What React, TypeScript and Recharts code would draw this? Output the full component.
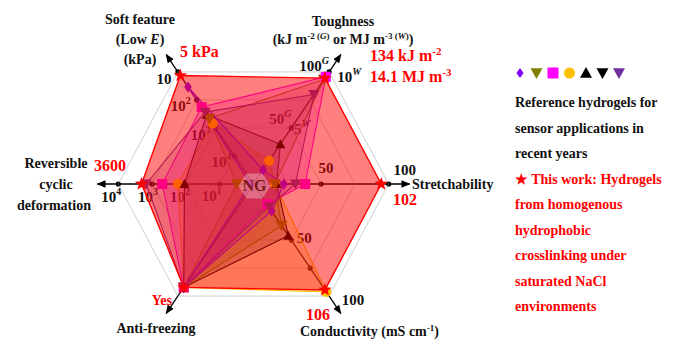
import React from "react";
import { PolarAngleAxis, PolarGrid, PolarRadiusAxis, Radar, RadarChart } from "recharts";

// axis order: clockwise from the right
const axisNames = [
  "Stretchability",
  "Conductivity",
  "Anti-freezing",
  "Reversible cyclic deformation",
  "Soft feature",
  "Toughness",
];
// the published hexagon is a little flattened: diagonal axes sit at 56 deg
const axisAngles = [0, 56, 124, 180, 236, 304];

// positions on a 0-4 ring scale (ring 4 = 100 / 10 kPa / 10^4 cycles / Yes)
const thisWork = [4.2, 4.2, 4.1, 3.68, 4.3, 4.2];
const refSquare = [1.7, 0.8, 4.1, 3.0, 3.05, 4.25];
const refCircle = [0.7, 4.28, 4.1, 2.49, 2.4, 0.92];
const refUp = [0.76, 2.05, 4.1, 2.27, 2.75, 1.58];
const refOlive = [0.7, 1.65, 4.1, 0.55, 2.6, 4.15];
const refDiamond = [1.0, 1.07, 4.1, 0.1, 3.85, 0.56];
const refPurpleDown = [1.38, 0.9, 4.1, 3.53, 2.85, 3.55];

const legendLines = [
  "Reference hydrogels for",
  "sensor applications in",
  "recent years",
];
const workLines = [
  "from homogenous",
  "hydrophobic",
  "crosslinking under",
  "saturated NaCl",
  "environments",
];

const CX = 253.5;
const CY = 184;
const UNIT = 33.8;
const MAXV = 4.5;
const FONT = "'Liberation Serif', 'Times New Roman', serif";
const WORK_OP = 0.5;

const data = axisNames.map((axis, i) => ({
  axis,
  angle: axisAngles[i],
  work: thisWork[i],
  square: refSquare[i],
  circle: refCircle[i],
  up: refUp[i],
  olive: refOlive[i],
  diamond: refDiamond[i],
  pdown: refPurpleDown[i],
}));

// references first, "this work" last so its translucent red sits over them
const series = [
  { key: "circle", color: "#ffc000", op: 0.3, shape: "circle", ms: 5 },
  { key: "up", color: "#000000", op: 0.22, shape: "up", ms: 5 },
  { key: "olive", color: "#808000", op: 0.2, shape: "down", ms: 6 },
  { key: "square", color: "#ff00ff", op: 0.25, shape: "square", ms: 5 },
  { key: "diamond", color: "#8000ff", op: 0.2, shape: "diamond", ms: 5.5 },
  { key: "pdown", color: "#7030a0", op: 0.2, shape: "down", ms: 5.5 },
  { key: "work", color: "#ff0000", op: WORK_OP, shape: "star", ms: 7 },
];

// marker colour as seen through the red "this work" layer
function underRed(hex: string) {
  const c = [1, 3, 5].map((k) => parseInt(hex.slice(k, k + 2), 16));
  const r = [255, 0, 0];
  const m = c.map((v, k) => Math.round(v * (1 - WORK_OP) + r[k] * WORK_OP));
  return `rgb(${m[0]},${m[1]},${m[2]})`;
}

function pt(i: number, v: number, ox = 0, oy = 0) {
  const a = (axisAngles[i] * Math.PI) / 180;
  return [CX + Math.cos(a) * v * UNIT + ox, CY + Math.sin(a) * v * UNIT + oy];
}

function Marker({ shape, x, y, s, color }: { shape: string; x: number; y: number; s: number; color: string }) {
  if (shape === "circle") return <circle cx={x} cy={y} r={s} fill={color} />;
  if (shape === "square") return <rect x={x - s} y={y - s} width={2 * s} height={2 * s} fill={color} />;
  if (shape === "up")
    return <path d={`M${x},${y - s} L${x + s},${y + s * 0.8} L${x - s},${y + s * 0.8} Z`} fill={color} />;
  if (shape === "down")
    return <path d={`M${x - s},${y - s * 0.8} L${x + s},${y - s * 0.8} L${x},${y + s} Z`} fill={color} />;
  if (shape === "diamond")
    return <path d={`M${x},${y - s} L${x + s * 0.7},${y} L${x},${y + s} L${x - s * 0.7},${y} Z`} fill={color} />;
  const pts: string[] = [];
  for (let k = 0; k < 10; k++) {
    const r = k % 2 === 0 ? s : s * 0.42;
    const a = (-90 + k * 36) * (Math.PI / 180);
    pts.push(`${x + r * Math.cos(a)},${y + r * Math.sin(a)}`);
  }
  return <polygon points={pts.join(" ")} fill={color} />;
}

const tickDots: [number, number[]][] = [
  [0, [2, 4]],
  [1, [2, 3]],
  [2, []],
  [3, [1, 2, 3, 4]],
  [4, [1, 2, 3, 4]],
  [5, [2, 4]],
];

function Underlay() {
  const tick = { fontFamily: FONT, fontWeight: 700, fontSize: 15, fill: "#111" } as const;
  const T = ({ i, v, ox, oy, children }: any) => {
    const [x, y] = pt(i, v, ox, oy);
    return (
      <text x={x} y={y} textAnchor="middle" dominantBaseline="middle" {...tick}>
        {children}
      </text>
    );
  };
  const sup = (s: string, it = false) => (
    <tspan dy={-6} fontSize={10} fontStyle={it ? "italic" : "normal"}>
      {s}
    </tspan>
  );
  return (
    <svg width={680} height={352} style={{ position: "absolute", left: 0, top: 0 }}>
      <defs>
        <marker id="arr" viewBox="0 0 10 10" refX="9" refY="5" markerWidth="7" markerHeight="7" orient="auto">
          <path d="M0,1 L10,5 L0,9 Z" fill="#000" />
        </marker>
      </defs>
      {axisNames.map((_, i) => {
        const [x2, y2] = pt(i, 4.62);
        return <line key={i} x1={CX} y1={CY} x2={x2} y2={y2} stroke="#000" strokeWidth={1.3} markerEnd="url(#arr)" />;
      })}
      {tickDots.map(([i, vs]) =>
        vs.map((v) => {
          const [x, y] = pt(i, v);
          return <circle key={`${i}-${v}`} cx={x} cy={y} r={2.6} fill="#000" />;
        })
      )}
      {/* soft feature (inverted log scale) */}
      <T i={4} v={4} ox={-14} oy={9}>10</T>
      <T i={4} v={3} ox={-16} oy={8}>10{sup("2")}</T>
      <T i={4} v={2} ox={-15} oy={9}>10{sup("3")}</T>
      <T i={4} v={1} ox={-13} oy={8}>10{sup("4")}</T>
      {/* reversible cyclic deformation */}
      <T i={3} v={4} ox={-7} oy={15}>10{sup("4")}</T>
      <T i={3} v={3} ox={-4} oy={15}>10{sup("3")}</T>
      <T i={3} v={2} ox={-6} oy={15}>10{sup("2")}</T>
      <T i={3} v={1} ox={-8} oy={14}>10{sup("1")}</T>
      {/* stretchability */}
      <T i={0} v={2} ox={5} oy={-14}>50</T>
      <T i={0} v={4} ox={16} oy={-12}>100</T>
      {/* conductivity */}
      <T i={1} v={2} ox={13} oy={0}>50</T>
      <T i={1} v={4} ox={24} oy={5}>100</T>
      {/* toughness */}
      <T i={5} v={2} ox={-11} oy={-7}>50{sup("G", true)}</T>
      <T i={5} v={2} ox={11} oy={3}>5{sup("W", true)}</T>
      <T i={5} v={4} ox={-15} oy={-4}>100{sup("G", true)}</T>
      <T i={5} v={4} ox={20} oy={7}>10{sup("W", true)}</T>
    </svg>
  );
}

function Overlay() {
  const ax = { fontFamily: FONT, fontWeight: 700, fontSize: 14, fill: "#111" } as const;
  const red = { fontFamily: FONT, fontWeight: 700, fontSize: 16, fill: "#ff0000" } as const;
  const leg = { fontFamily: FONT, fontWeight: 700, fontSize: 14 } as const;
  const hex: string[] = [];
  for (let k = 0; k < 6; k++) {
    const a = (k * 60 * Math.PI) / 180;
    hex.push(`${CX + 1 + 16 * Math.cos(a)},${CY + 2 + 14.5 * Math.sin(a)}`);
  }
  const legendShapes = [
    { shape: "diamond", color: "#8000ff", s: 5 },
    { shape: "down", color: "#808000", s: 6 },
    { shape: "square", color: "#ff00ff", s: 5.5 },
    { shape: "circle", color: "#ffc000", s: 5.5 },
    { shape: "up", color: "#000", s: 6 },
    { shape: "down", color: "#000", s: 6 },
    { shape: "down", color: "#7030a0", s: 6 },
  ];
  return (
    <svg width={680} height={352} style={{ position: "absolute", left: 0, top: 0, pointerEvents: "none" }}>
      <polygon points={hex.join(" ")} fill="#ffffff" fillOpacity={0.3} />
      <text x={CX + 1} y={CY + 3} textAnchor="middle" dominantBaseline="middle" fontFamily={FONT} fontWeight={700} fontSize={16} fill="#7a1818">
        NG
      </text>

      <text x={140} y={24} textAnchor="middle" {...ax}>Soft feature</text>
      <text x={140} y={44} textAnchor="middle" {...ax}>
        (Low <tspan fontStyle="italic">E</tspan>)
      </text>
      <text x={140} y={64} textAnchor="middle" {...ax}>(kPa)</text>
      <text x={180} y={57} {...red}>5 kPa</text>

      <text x={343} y={26} textAnchor="middle" {...ax}>Toughness</text>
      <text x={343} y={44} textAnchor="middle" {...ax}>
        (kJ m
        <tspan dy={-5} fontSize={9}>-2 (</tspan>
        <tspan fontSize={9} fontStyle="italic">G</tspan>
        <tspan fontSize={9}>)</tspan>
        <tspan dy={5}> or MJ m</tspan>
        <tspan dy={-5} fontSize={9}>-3 (</tspan>
        <tspan fontSize={9} fontStyle="italic">W</tspan>
        <tspan fontSize={9}>)</tspan>
        <tspan dy={5}>)</tspan>
      </text>
      <text x={370} y={61} {...red}>
        134 kJ m<tspan dy={-6} fontSize={11}>-2</tspan>
      </text>
      <text x={370} y={82} {...red}>
        14.1 MJ m<tspan dy={-6} fontSize={11}>-3</tspan>
      </text>

      <text x={56} y={168} textAnchor="middle" {...ax}>Reversible</text>
      <text x={56} y={189} textAnchor="middle" {...ax}>cyclic</text>
      <text x={54} y={210} textAnchor="middle" {...ax}>deformation</text>
      <text x={110} y={171} textAnchor="middle" {...red}>3600</text>

      <text x={412} y={189} {...ax}>Stretchability</text>
      <text x={405} y={205} textAnchor="middle" {...red}>102</text>

      <text x={300} y={336} {...ax}>
        Conductivity (mS cm<tspan dy={-5} fontSize={9}>-1</tspan>
        <tspan dy={5}>)</tspan>
      </text>
      <text x={318} y={320} textAnchor="middle" {...red}>106</text>

      <text x={156} y={333} textAnchor="middle" {...ax}>Anti-freezing</text>
      <text x={172} y={305} textAnchor="end" {...red} fontSize={14}>Yes</text>

      {legendShapes.map((m, k) => (
        <Marker key={k} shape={m.shape} x={520 + k * 16.5} y={73} s={m.s} color={m.color} />
      ))}
      {legendLines.map((t, k) => (
        <text key={t} x={515} y={107 + k * 25.5} {...leg} fill="#111">
          {t}
        </text>
      ))}
      <text x={515} y={183.5} {...leg} fill="#ff0000">
        ★ This work: Hydrogels
      </text>
      {workLines.map((t, k) => (
        <text key={t} x={515} y={209 + k * 25.5} {...leg} fill="#ff0000">
          {t}
        </text>
      ))}
    </svg>
  );
}

export default function App() {
  return (
    <div style={{ position: "absolute", left: 0, top: 0, width: 680, height: 352, background: "#fff" }}>
      <Underlay />
      <div style={{ position: "absolute", left: 0, top: 0 }}>
        <RadarChart
          width={680}
          height={352}
          data={data}
          cx={CX}
          cy={CY}
          outerRadius={MAXV * UNIT}
          startAngle={0}
          endAngle={-360}
          margin={{ top: 0, right: 0, bottom: 0, left: 0 }}
        >
          <PolarGrid
            gridType="polygon"
            radialLines={false}
            polarAngles={axisAngles.map((a) => -a)}
            polarRadius={[1, 2, 3, 4].map((v) => v * UNIT)}
            stroke="#9a9a9a"
            strokeOpacity={0.6}
            strokeWidth={0.8}
          />
          <PolarAngleAxis dataKey="angle" type="number" domain={[0, 360]} tick={false} axisLine={false} />
          <PolarRadiusAxis domain={[0, MAXV]} tick={false} axisLine={false} />
          {series.map((s) => (
            <Radar
              key={s.key}
              dataKey={s.key}
              stroke={s.color}
              strokeWidth={s.key === "work" ? 1.4 : 1.1}
              fill={s.color}
              fillOpacity={s.op}
              isAnimationActive={false}
              dot={(p: any) => {
                const inside = s.key !== "work" && p.value <= thisWork[p.index] + 0.02;
                return (
                  <Marker
                    key={`${s.key}-${p.index}`}
                    shape={s.shape}
                    x={p.cx}
                    y={p.cy}
                    s={s.ms}
                    color={inside ? underRed(s.color) : s.color}
                  />
                );
              }}
            />
          ))}
        </RadarChart>
      </div>
      <Overlay />
    </div>
  );
}
